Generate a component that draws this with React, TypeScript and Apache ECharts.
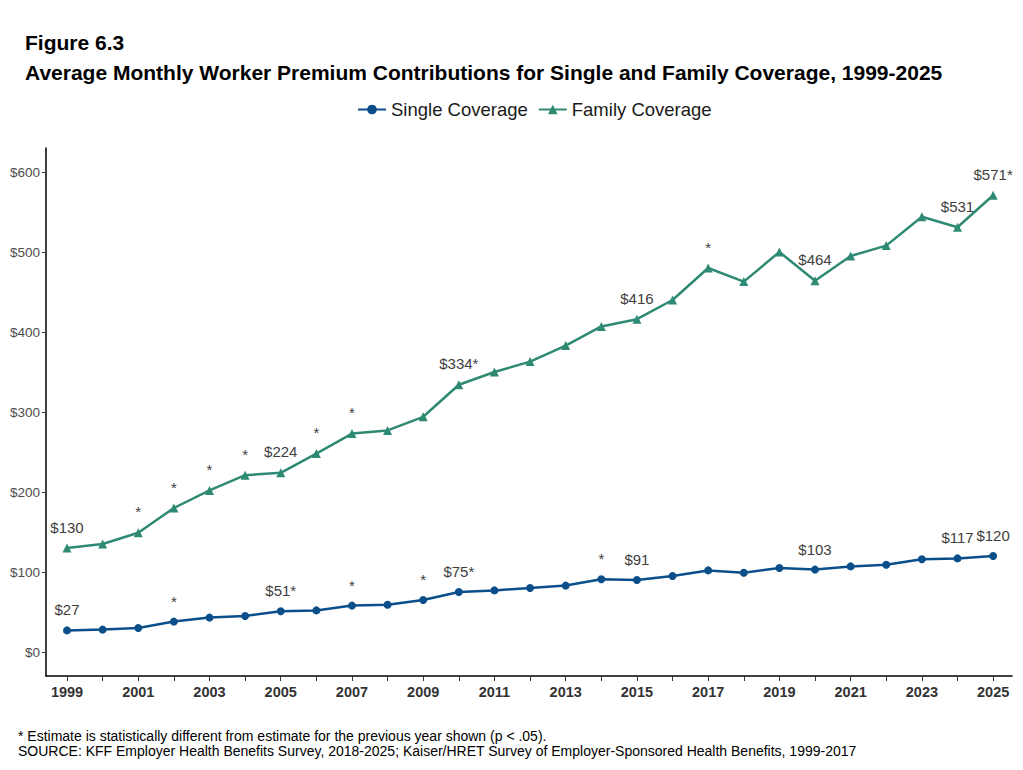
import React, { useEffect, useRef } from "react";
import * as echarts from "echarts";

const years = [1999,2000,2001,2002,2003,2004,2005,2006,2007,2008,2009,2010,2011,2012,2013,2014,2015,2016,2017,2018,2019,2020,2021,2022,2023,2024,2025];
const labelYears = [1999,2001,2003,2005,2007,2009,2011,2013,2015,2017,2019,2021,2023,2025];
const singleValues = [27,28,30,38,43,45,51,52,58,59,65,75,77,80,83,91,90,95,102,99,105,103,107,109,116,117,120];
const familyValues = [130,135,149,180,202,221,224,248,273,277,294,334,350,363,383,407,416,440,480,463,500,464,495,508,544,531,571];
const singleLabels = ["$27","","","*","","","$51*","","*","","*","$75*","","","","*","$91","","","","","$103","","","","$117","$120"];
const familyLabels = ["$130","","*","*","*","*","$224","*","*","","","$334*","","","","","$416","","*","","","$464","","","","$531","$571*"];
const yTicks = [0,100,200,300,400,500,600];

const FONT = "Liberation Sans, Arial, sans-serif";
const BLUE = "#0b4f8a";
const GREEN = "#2f8a73";

function mkData(vals: number[], labels: string[]) {
  return vals.map((v, i) => ({
    value: [years[i], v],
    label: labels[i]
      ? { show: true, formatter: labels[i] }
      : { show: false },
  }));
}

export default function App() {
  const ref = useRef<HTMLDivElement>(null);
  useEffect(() => {
    if (!ref.current) return;
    const chart = echarts.init(ref.current, null, { renderer: "svg" });
    const labelStyle = {
      position: "top" as const,
      distance: 9,
      fontFamily: FONT,
      fontSize: 15,
      color: "#404040",
    };
    chart.setOption({
      animation: false,
      backgroundColor: "#ffffff",
      textStyle: { fontFamily: FONT },
      title: [
        {
          text: "Figure 6.3",
          left: 25,
          top: 32,
          padding: 0,
          textStyle: { fontFamily: FONT, fontSize: 21, fontWeight: "bold", color: "#000" },
        },
        {
          text: "Average Monthly Worker Premium Contributions for Single and Family Coverage, 1999-2025",
          left: 25,
          top: 62,
          padding: 0,
          textStyle: { fontFamily: FONT, fontSize: 21, fontWeight: "bold", color: "#000" },
        },
      ],
      legend: {
        top: 100,
        left: 357,
        padding: 0,
        itemWidth: 28,
        itemHeight: 12,
        itemGap: 10,
        textStyle: { fontFamily: FONT, fontSize: 18.5, color: "#1a1a1a" },
        data: ["Single Coverage", "Family Coverage"],
      },
      grid: { left: 46, top: 148, width: 966, height: 528, containLabel: false },
      xAxis: {
        type: "value",
        min: 1998.41,
        max: 2025.53,
        axisLine: { onZero: false, lineStyle: { color: "#000", width: 1.5 } },
        axisTick: { show: true, length: 5, customValues: years, lineStyle: { color: "#333" } },
        axisLabel: {
          customValues: labelYears,
          formatter: (v: number) => String(v),
          fontFamily: FONT,
          fontSize: 14.5,
          fontWeight: "bold",
          color: "#333",
          margin: 8,
        },
        splitLine: { show: false },
      },
      yAxis: {
        type: "value",
        min: -30,
        max: 630,
        axisLine: { show: true, onZero: false, lineStyle: { color: "#000", width: 1.5 } },
        axisTick: { show: true, length: 4, customValues: yTicks, lineStyle: { color: "#333" } },
        axisLabel: {
          customValues: yTicks,
          formatter: (v: number) => "$" + v,
          fontFamily: FONT,
          fontSize: 13.5,
          color: "#4d4d4d",
          margin: 6,
        },
        splitLine: { show: false },
      },
      series: [
        {
          name: "Single Coverage",
          type: "line",
          data: mkData(singleValues, singleLabels),
          symbol: "circle",
          symbolSize: 8,
          lineStyle: { color: BLUE, width: 2.5 },
          itemStyle: { color: BLUE },
          label: labelStyle,
          z: 3,
        },
        {
          name: "Family Coverage",
          type: "line",
          data: mkData(familyValues, familyLabels),
          symbol: "triangle",
          symbolSize: 9,
          lineStyle: { color: GREEN, width: 2.5 },
          itemStyle: { color: GREEN },
          label: labelStyle,
          z: 3,
        },
      ],
      graphic: [
        {
          type: "text",
          left: 18,
          top: 729,
          style: {
            text: "* Estimate is statistically different from estimate for the previous year shown (p < .05).",
            fontFamily: FONT,
            fontSize: 14,
            fill: "#000",
          },
        },
        {
          type: "text",
          left: 18,
          top: 744,
          style: {
            text: "SOURCE: KFF Employer Health Benefits Survey, 2018-2025; Kaiser/HRET Survey of Employer-Sponsored Health Benefits, 1999-2017",
            fontFamily: FONT,
            fontSize: 14,
            fill: "#000",
          },
        },
      ],
    });
    return () => chart.dispose();
  }, []);
  return <div ref={ref} style={{ width: 1023, height: 770, margin: -8 }} />;
}
